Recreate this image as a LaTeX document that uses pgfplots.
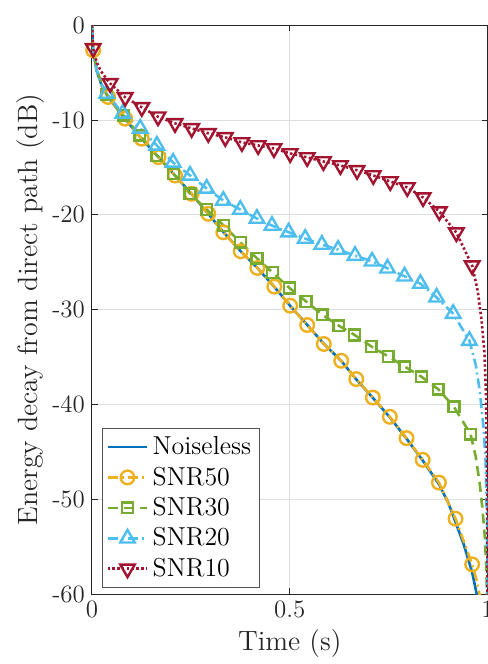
\documentclass[border=0pt]{standalone}
\usepackage{pgfplots}
\pgfplotsset{compat=1.18}
\definecolor{mblue}{rgb}{0,0.447,0.741}
\definecolor{morange}{rgb}{0.929,0.694,0.125}
\definecolor{mgreen}{rgb}{0.466,0.674,0.188}
\definecolor{mcyan}{rgb}{0.301,0.745,0.933}
\definecolor{mred}{rgb}{0.635,0.078,0.184}
\definecolor{axgray}{rgb}{0.15,0.15,0.15}
\pgfplotsset{
  sNoise/.style={mblue, line width=1.3pt, solid},
  s50/.style={morange, line width=1.3pt, dash pattern=on 5pt off 2pt on 1pt off 2pt, mark=o, mark size=3.4pt, mark options={solid, line width=1.2pt}},
  s30/.style={mgreen, line width=1.3pt, dash pattern=on 5pt off 3pt, mark=square, mark size=2.7pt, mark options={solid, line width=1.2pt}},
  s20/.style={mcyan, line width=1.3pt, dash pattern=on 5pt off 2pt on 1pt off 2pt, mark=triangle, mark size=4.2pt, mark options={solid, line width=1.2pt}},
  s10/.style={mred, line width=1.3pt, dash pattern=on 1.2pt off 1.2pt, mark=triangle, mark size=4.2pt, mark options={solid, line width=1.2pt, rotate=180}},
}
\begin{document}
\begin{tikzpicture}[trim axis right]
\begin{axis}[
  scale only axis,
  width=197.5bp, height=284bp,
  xmin=0, xmax=1, ymin=-60, ymax=0,
  xtick={0,0.5,1},
  ytick={-60,-50,-40,-30,-20,-10,0},
  grid=major,
  major grid style={black!13, line width=0.5pt},
  axis line style={axgray, line width=0.5pt},
  major tick style={axgray, line width=0.5pt},
  major tick length=3bp,
  tick align=inside,
  /pgf/number format/assume math mode=true,
  tick label style={font=\fontsize{12.5}{14}\selectfont, text=axgray},
  label style={font=\fontsize{14}{16}\selectfont, text=axgray},
  xlabel={Time (s)},
  xlabel style={yshift=1.3bp},
  ylabel={Energy decay from direct path (dB)},
  ylabel style={yshift=-3bp},
  legend style={at={(0.025,0.011)}, anchor=south west, draw=axgray!80, line width=0.5pt, fill=white,
    font=\fontsize{13}{15}\selectfont, row sep=0.6pt, inner sep=2pt},
  legend cell align=left,
  legend image code/.code={\draw[mark repeat=2,mark phase=2,#1] plot coordinates {(0cm,0cm) (0.35cm,0cm) (0.7cm,0cm)};},
  clip=true,
]
% Noiseless
\addplot[sNoise, forget plot] coordinates {
(0,0) (0.003,-2.6) (0.012,-4.8) (0.024,-6.3) (0.041,-7.6) (0.084,-9.9) (0.126,-12.0) (0.168,-13.9)
(0.21,-15.85) (0.252,-17.8) (0.294,-19.9) (0.332,-21.8) (0.376,-23.85) (0.418,-25.6) (0.461,-27.6)
(0.501,-29.6) (0.544,-31.6) (0.586,-33.6) (0.63,-35.4) (0.668,-37.35) (0.71,-39.3) (0.753,-41.35)
(0.795,-43.6) (0.836,-45.9) (0.877,-48.4) (0.9,-50.3) (0.919,-52.4) (0.94,-54.8) (0.961,-57.7) (0.975,-60.5)
};
% SNR50 line
\addplot[s50, no marks, forget plot] coordinates {
(0,0) (0.003,-2.64) (0.012,-4.8) (0.024,-6.3) (0.041,-7.57) (0.084,-9.86) (0.126,-11.97) (0.168,-13.91)
(0.210,-15.85) (0.252,-17.78) (0.294,-19.89) (0.332,-21.84) (0.376,-23.84) (0.418,-25.6) (0.461,-27.57)
(0.501,-29.58) (0.544,-31.62) (0.586,-33.62) (0.630,-35.39) (0.668,-37.32) (0.710,-39.27) (0.753,-41.3)
(0.795,-43.55) (0.836,-45.84) (0.877,-48.24) (0.919,-52.05) (0.961,-56.86) (0.972,-58.5) (0.982,-60.5)
};
\addplot[s50, only marks, forget plot] coordinates {
(0.003,-2.64) (0.041,-7.57) (0.084,-9.86) (0.126,-11.97) (0.168,-13.91)
(0.210,-15.85) (0.252,-17.78) (0.294,-19.89) (0.332,-21.84) (0.376,-23.84) (0.418,-25.6) (0.461,-27.57)
(0.501,-29.58) (0.544,-31.62) (0.586,-33.62) (0.630,-35.39) (0.668,-37.32) (0.710,-39.27) (0.753,-41.3)
(0.795,-43.55) (0.836,-45.84) (0.877,-48.24) (0.919,-52.05) (0.961,-56.86)
};
% SNR30
\addplot[s30, no marks, forget plot] coordinates {
(0,0) (0.002,-2.6) (0.012,-4.6) (0.024,-6.1) (0.037,-7.3) (0.079,-9.5) (0.121,-11.6) (0.164,-13.73)
(0.206,-15.66) (0.248,-17.78) (0.290,-19.44) (0.333,-21.13) (0.375,-22.89) (0.417,-24.58) (0.456,-26.06)
(0.499,-27.71) (0.541,-29.12) (0.582,-30.53) (0.624,-31.69) (0.664,-32.67) (0.706,-33.88) (0.749,-34.93)
(0.791,-36.02) (0.833,-37.08) (0.875,-38.38) (0.915,-40.25) (0.957,-43.13) (0.97,-45.5) (0.98,-48.3)
(0.987,-51) (0.993,-54) (0.997,-57.5) (1,-65)
};
\addplot[s30, only marks, forget plot] coordinates {
(0.037,-7.3) (0.079,-9.5) (0.121,-11.6) (0.164,-13.73)
(0.206,-15.66) (0.248,-17.78) (0.290,-19.44) (0.333,-21.13) (0.375,-22.89) (0.417,-24.58) (0.456,-26.06)
(0.499,-27.71) (0.541,-29.12) (0.582,-30.53) (0.624,-31.69) (0.664,-32.67) (0.706,-33.88) (0.749,-34.93)
(0.791,-36.02) (0.833,-37.08) (0.875,-38.38) (0.915,-40.25) (0.957,-43.13)
};
% SNR20
\addplot[s20, no marks, forget plot] coordinates {
(0,0) (0.002,-2.6) (0.012,-4.8) (0.024,-6.2) (0.037,-7.21) (0.078,-9.30) (0.122,-10.88) (0.164,-12.68)
(0.205,-14.47) (0.248,-15.84) (0.290,-17.22) (0.332,-18.49) (0.375,-19.44) (0.417,-20.39) (0.455,-21.13)
(0.497,-21.83) (0.539,-22.5) (0.581,-23.13) (0.622,-23.66) (0.665,-24.3) (0.708,-24.9) (0.747,-25.64)
(0.790,-26.48) (0.830,-27.25) (0.871,-28.7) (0.913,-30.42) (0.954,-33.27) (0.97,-35.8) (0.98,-38.5)
(0.99,-42.5) (0.995,-46) (0.998,-52) (1,-65)
};
\addplot[s20, only marks, forget plot] coordinates {
(0.037,-7.21) (0.078,-9.30) (0.122,-10.88) (0.164,-12.68)
(0.205,-14.47) (0.248,-15.84) (0.290,-17.22) (0.332,-18.49) (0.375,-19.44) (0.417,-20.39) (0.455,-21.13)
(0.497,-21.83) (0.539,-22.5) (0.581,-23.13) (0.622,-23.66) (0.665,-24.3) (0.708,-24.9) (0.747,-25.64)
(0.790,-26.48) (0.830,-27.25) (0.871,-28.7) (0.913,-30.42) (0.954,-33.27)
};
% SNR10
\addplot[s10, no marks, forget plot] coordinates {
(0,0) (0.003,-2.43) (0.012,-3.9) (0.022,-4.8) (0.034,-5.5) (0.046,-6.13) (0.084,-7.6) (0.126,-8.66)
(0.167,-9.65) (0.210,-10.35) (0.252,-10.88) (0.294,-11.4) (0.337,-11.83) (0.379,-12.36) (0.420,-12.68)
(0.460,-13.0) (0.501,-13.52) (0.544,-13.94) (0.585,-14.37) (0.628,-14.79) (0.670,-15.3) (0.711,-15.84)
(0.754,-16.48) (0.797,-17.11) (0.837,-18.17) (0.878,-19.65) (0.921,-21.87) (0.961,-25.35) (0.975,-28)
(0.985,-31.2) (0.992,-34.5) (0.996,-39) (0.998,-45) (0.9995,-53) (1,-65)
};
\addplot[s10, only marks, forget plot] coordinates {
(0.003,-2.43) (0.046,-6.13) (0.084,-7.6) (0.126,-8.66)
(0.167,-9.65) (0.210,-10.35) (0.252,-10.88) (0.294,-11.4) (0.337,-11.83) (0.379,-12.36) (0.420,-12.68)
(0.460,-13.0) (0.501,-13.52) (0.544,-13.94) (0.585,-14.37) (0.628,-14.79) (0.670,-15.3) (0.711,-15.84)
(0.754,-16.48) (0.797,-17.11) (0.837,-18.17) (0.878,-19.65) (0.921,-21.87) (0.961,-25.35)
};
\addlegendimage{sNoise}\addlegendentry{Noiseless}
\addlegendimage{s50}\addlegendentry{SNR50}
\addlegendimage{s30}\addlegendentry{SNR30}
\addlegendimage{s20}\addlegendentry{SNR20}
\addlegendimage{s10}\addlegendentry{SNR10}
\end{axis}
\path ([yshift=5bp]current bounding box.north west) ++(-5bp,0) coordinate (padtl);
\path (padtl) -- (padtl);
\end{tikzpicture}
\end{document}
